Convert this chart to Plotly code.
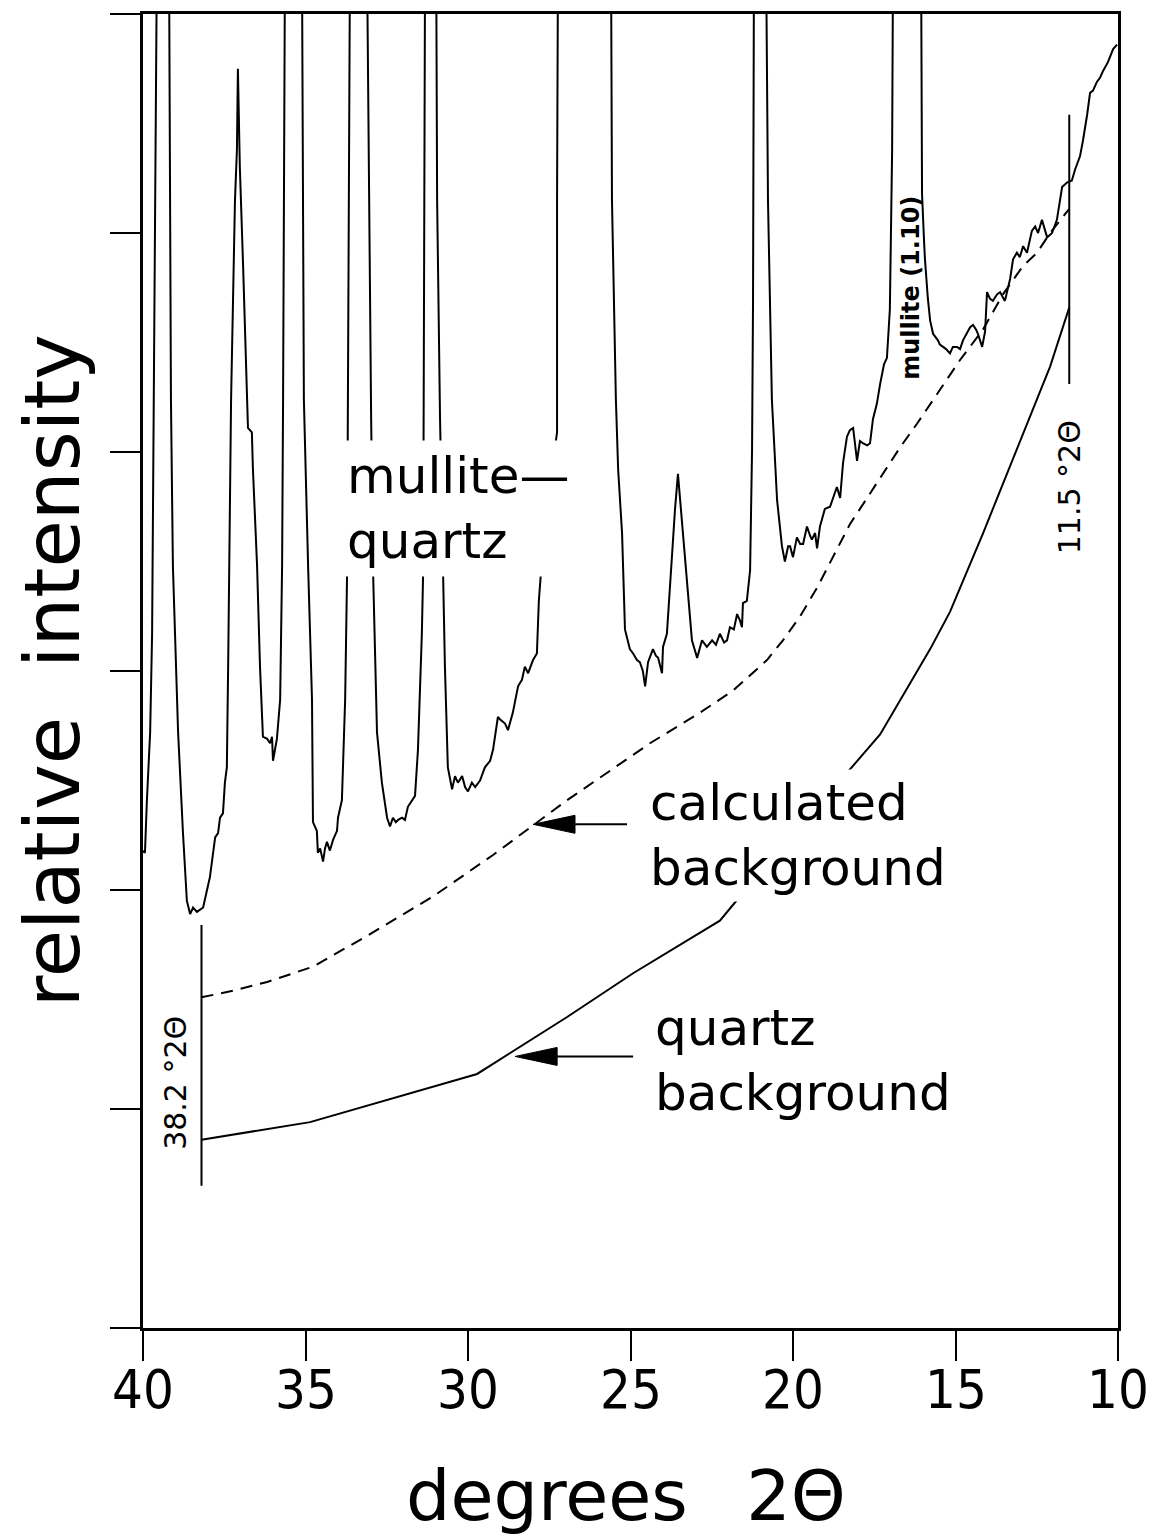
import plotly.graph_objects as go

# Measured X-ray diffraction pattern (2-theta in degrees, relative intensity).
# Peaks that run off the top of the frame carry an off-scale value of 6.29.
two_theta = [
    40.03, 39.94, 39.88, 39.78, 39.72, 39.69, 39.63, 39.57, 39.20, 39.17,
    39.14, 39.08, 38.92, 38.77, 38.65, 38.55, 38.46, 38.34, 38.25, 38.15,
    38.03, 37.94, 37.78, 37.69, 37.63, 37.54, 37.48, 37.42, 37.38, 37.35,
    37.29, 37.17, 37.11, 37.08, 37.02, 36.92, 36.80, 36.77, 36.65, 36.62,
    36.49, 36.40, 36.31, 36.18, 36.09, 36.03, 36.00, 35.94, 35.88, 35.78,
    35.72, 35.69, 35.63, 35.11, 35.08, 35.05, 34.92, 34.80, 34.77, 34.65,
    34.62, 34.55, 34.49, 34.46, 34.40, 34.34, 34.25, 34.15, 34.03, 34.00,
    33.88, 33.78, 33.72, 33.69, 33.63, 33.11, 33.05, 32.98, 32.92, 32.80,
    32.65, 32.49, 32.40, 32.31, 32.22, 32.15, 32.03, 31.94, 31.85, 31.72,
    31.63, 31.54, 31.42, 31.38, 31.35, 31.32, 30.98, 30.95, 30.86, 30.77,
    30.71, 30.62, 30.49, 30.40, 30.31, 30.18, 30.09, 30.00, 29.88, 29.78,
    29.63, 29.48, 29.32, 29.23, 29.08, 29.02, 28.86, 28.77, 28.62, 28.46,
    28.34, 28.25, 28.15, 28.00, 27.88, 27.82, 27.75, 27.54, 27.26, 27.26,
    27.23, 25.60, 25.57, 25.45, 25.38, 25.26, 25.17, 25.02, 24.92, 24.80,
    24.71, 24.62, 24.55, 24.46, 24.31, 24.22, 24.15, 24.03, 24.00, 23.88,
    23.72, 23.63, 23.54, 23.45, 23.32, 23.11, 22.95, 22.80, 22.65, 22.49,
    22.37, 22.25, 22.12, 22.03, 21.94, 21.82, 21.72, 21.63, 21.57, 21.54,
    21.42, 21.32, 21.26, 21.23, 21.20, 20.83, 20.77, 20.65, 20.49, 20.34,
    20.25, 20.15, 20.09, 20.00, 19.88, 19.78, 19.69, 19.57, 19.48, 19.42,
    19.32, 19.26, 19.17, 19.02, 18.86, 18.77, 18.65, 18.55, 18.46, 18.34,
    18.25, 18.15, 18.03, 17.94, 17.85, 17.72, 17.63, 17.54, 17.42, 17.32,
    17.20, 17.11, 17.02, 16.95, 16.92, 16.06, 16.03, 15.97, 15.94, 15.85,
    15.78, 15.69, 15.60, 15.54, 15.48, 15.38, 15.29, 15.17, 15.08, 14.95,
    14.86, 14.77, 14.65, 14.55, 14.46, 14.37, 14.31, 14.18, 14.09, 14.03,
    13.94, 13.85, 13.72, 13.63, 13.48, 13.32, 13.23, 13.11, 13.02, 12.92,
    12.80, 12.65, 12.55, 12.46, 12.34, 12.18, 12.03, 11.88, 11.72, 11.57,
    11.42, 11.32, 11.17, 11.08, 10.95, 10.86, 10.77, 10.65, 10.55, 10.46,
    10.31, 10.15, 10.03,
]
intensity = [
    2.18, 2.17, 2.41, 2.72, 3.17, 3.78, 4.69, 6.29, 6.29, 5.15,
    4.24, 3.48, 2.72, 2.26, 1.95, 1.89, 1.92, 1.90, 1.91, 1.92,
    2.00, 2.06, 2.24, 2.26, 2.33, 2.35, 2.49, 2.56, 3.02, 3.55,
    4.24, 5.15, 5.38, 5.75, 5.30, 4.85, 4.24, 4.11, 4.09, 3.93,
    3.48, 3.02, 2.70, 2.69, 2.67, 2.70, 2.59, 2.64, 2.69, 2.87,
    3.48, 4.24, 6.29, 6.29, 5.15, 4.24, 3.48, 2.87, 2.31, 2.27,
    2.17, 2.19, 2.15, 2.13, 2.19, 2.22, 2.18, 2.23, 2.27, 2.33,
    2.41, 2.87, 3.45, 4.15, 6.29, 6.29, 5.15, 4.15, 3.45, 2.72,
    2.49, 2.33, 2.29, 2.33, 2.31, 2.32, 2.33, 2.32, 2.38, 2.41,
    2.43, 2.64, 3.17, 3.45, 4.69, 6.29, 6.29, 5.15, 4.15, 3.45,
    3.02, 2.56, 2.46, 2.52, 2.49, 2.52, 2.47, 2.45, 2.49, 2.47,
    2.50, 2.56, 2.59, 2.64, 2.79, 2.78, 2.76, 2.73, 2.81, 2.93,
    2.96, 3.02, 2.99, 3.05, 3.08, 3.32, 3.46, 3.78, 4.09, 5.15,
    6.29, 6.29, 5.15, 4.24, 3.92, 3.63, 3.19, 3.10, 3.08, 3.05,
    3.04, 3.00, 2.93, 3.04, 3.10, 3.07, 3.06, 2.99, 3.11, 3.17,
    3.55, 3.74, 3.90, 3.74, 3.55, 3.14, 3.06, 3.14, 3.11, 3.14,
    3.12, 3.17, 3.13, 3.14, 3.20, 3.19, 3.26, 3.23, 3.20, 3.31,
    3.32, 3.46, 4.01, 4.69, 6.29, 6.29, 5.15, 4.24, 3.78, 3.57,
    3.50, 3.57, 3.57, 3.52, 3.61, 3.58, 3.58, 3.66, 3.62, 3.60,
    3.63, 3.56, 3.66, 3.74, 3.75, 3.79, 3.84, 3.79, 3.95, 4.07,
    4.10, 4.11, 3.96, 4.05, 4.04, 4.03, 4.04, 4.15, 4.22, 4.31,
    4.40, 4.43, 4.65, 5.38, 6.29, 6.29, 5.18, 4.97, 4.88, 4.70,
    4.60, 4.54, 4.52, 4.51, 4.49, 4.48, 4.47, 4.45, 4.48, 4.48,
    4.47, 4.51, 4.54, 4.57, 4.58, 4.56, 4.54, 4.48, 4.55, 4.73,
    4.70, 4.69, 4.72, 4.73, 4.69, 4.79, 4.88, 4.91, 4.89, 4.94,
    4.91, 5.01, 5.03, 5.00, 5.06, 4.98, 5.00, 5.06, 5.21, 5.23,
    5.24, 5.29, 5.35, 5.42, 5.54, 5.64, 5.65, 5.69, 5.71, 5.74,
    5.78, 5.84, 5.86,
]

# Calculated background (dashed curve)
calc_bg_theta = [38.2, 37.23, 36.18, 34.77, 33.11, 31.08, 29.23, 27.94, 26.95,
                 24.40, 22.86, 21.85, 20.80, 20.31, 19.78, 19.26, 18.77, 18.25,
                 17.72, 17.23, 16.71, 16.18, 15.54, 14.86, 14.15, 13.54, 12.92,
                 12.49, 12.09, 11.5]
calc_bg_int = [1.51, 1.54, 1.58, 1.65, 1.79, 1.97, 2.16, 2.30, 2.41,
               2.67, 2.81, 2.91, 3.05, 3.14, 3.25, 3.38, 3.52, 3.67,
               3.79, 3.90, 4.02, 4.13, 4.27, 4.42, 4.56, 4.72, 4.85,
               4.91, 5.00, 5.11]

# Quartz background (solid curve)
quartz_bg_theta = [38.2, 34.86, 29.72, 26.95, 24.92, 22.25, 21.69,
                   17.32, 15.78, 15.17, 14.15, 13.11, 12.09, 11.5]
quartz_bg_int = [0.86, 0.94, 1.16, 1.42, 1.62, 1.86, 1.96,
                 2.71, 3.10, 3.27, 3.63, 4.01, 4.39, 4.66]

# Integration limits (degrees 2-theta) and the extent of their marker lines
limit_theta = [38.2, 11.5]
limit_low = [0.65, 4.31]
limit_high = [1.84, 5.54]

x_ticks = [40, 35, 30, 25, 20, 15, 10]
y_ticks = [0, 1, 2, 3, 4, 5, 6]

TEXT_FONT = "DejaVu Sans, Verdana, sans-serif"
TICK_FONT = "Liberation Sans Narrow, DejaVu Sans Condensed, Arial Narrow, sans-serif"

fig = go.Figure()

fig.add_trace(go.Scatter(
    x=two_theta, y=intensity, mode="lines",
    line=dict(color="black", width=2), showlegend=False, hoverinfo="skip",
))
fig.add_trace(go.Scatter(
    x=calc_bg_theta, y=calc_bg_int, mode="lines",
    line=dict(color="black", width=2, dash="12px,8px"),
    showlegend=False, hoverinfo="skip",
))
fig.add_trace(go.Scatter(
    x=quartz_bg_theta, y=quartz_bg_int, mode="lines",
    line=dict(color="black", width=2), showlegend=False, hoverinfo="skip",
))

shapes = []
for t, lo, hi in zip(limit_theta, limit_low, limit_high):
    shapes.append(dict(type="line", xref="x", yref="y", x0=t, x1=t, y0=lo, y1=hi,
                       line=dict(color="black", width=2)))

# Arrows pointing at the two background curves: (tip x, tip y, tail length px)
arrows = [(28.0, 2.30, 94), (28.55, 1.24, 118)]
for ax_, ay_, tail in arrows:
    shapes.append(dict(type="line", xref="x", yref="y", xsizemode="pixel",
                       xanchor=ax_, x0=30, x1=tail, y0=ay_, y1=ay_,
                       line=dict(color="black", width=2)))
    shapes.append(dict(type="path", xref="x", yref="y", xsizemode="pixel",
                       ysizemode="pixel", xanchor=ax_, yanchor=ay_,
                       path="M0,0 L42,9 L42,-9 Z", fillcolor="black",
                       line=dict(color="black", width=1)))

annotations = [
    dict(x=33.94, y=3.74, xref="x", yref="y", text="mullite\u2014<br>quartz",
         showarrow=False, xanchor="left", yanchor="middle", align="left",
         bgcolor="white", borderpad=6,
         font=dict(family=TEXT_FONT, size=50, color="black")),
    dict(x=24.55, y=2.25, xref="x", yref="y", text="calculated<br>background",
         showarrow=False, xanchor="left", yanchor="middle", align="left",
         bgcolor="white", borderpad=4,
         font=dict(family=TEXT_FONT, size=50, color="black")),
    dict(x=24.40, y=1.22, xref="x", yref="y", text="quartz<br>background",
         showarrow=False, xanchor="left", yanchor="middle", align="left",
         bgcolor="white", borderpad=4,
         font=dict(family=TEXT_FONT, size=50, color="black")),
    dict(x=16.37, y=4.75, xref="x", yref="y", text="mullite (1.10)",
         showarrow=False, textangle=-90, xanchor="center", yanchor="middle",
         font=dict(family=TEXT_FONT, size=24, color="black", weight="bold")),
    dict(x=38.98, y=1.12, xref="x", yref="y", text="38.2 \u00b02\u0398",
         showarrow=False, textangle=-90, xanchor="center", yanchor="middle",
         font=dict(family=TEXT_FONT, size=30, color="black")),
    dict(x=11.5, y=3.84, xref="x", yref="y", text="11.5 \u00b02\u0398",
         showarrow=False, textangle=-90, xanchor="center", yanchor="middle",
         font=dict(family=TEXT_FONT, size=30, color="black")),
    # axis titles
    dict(x=-0.093, y=0.50, xref="paper", yref="paper", text="relative\u00a0 intensity",
         showarrow=False, textangle=-90, xanchor="center", yanchor="middle",
         font=dict(family=TEXT_FONT, size=77, color="black")),
    dict(x=0.495, y=-0.128, xref="paper", yref="paper",
         text="degrees\u00a0\u2009 2\u0398",
         showarrow=False, xanchor="center", yanchor="middle",
         font=dict(family=TEXT_FONT, size=70, color="black")),
]

# x tick labels, set just below the outside tick marks
for v in x_ticks:
    annotations.append(dict(
        x=v, y=-0.021, xref="x", yref="paper", text=str(v), showarrow=False,
        xanchor="center", yanchor="top",
        font=dict(family=TICK_FONT, size=54, color="black"),
    ))

fig.update_layout(
    width=1167, height=1539,
    margin=dict(l=143, r=49, t=14, b=211),
    paper_bgcolor="white", plot_bgcolor="white",
    shapes=shapes, annotations=annotations,
    showlegend=False,
)
fig.update_xaxes(
    range=[40, 10], tickvals=x_ticks, showticklabels=False,
    ticks="outside", ticklen=30, tickwidth=2, tickcolor="black",
    showline=True, linecolor="black", linewidth=2.5, mirror=True,
    showgrid=False, zeroline=False,
)
fig.update_yaxes(
    range=[0, 6], tickvals=y_ticks, showticklabels=False,
    ticks="outside", ticklen=30, tickwidth=2, tickcolor="black",
    showline=True, linecolor="black", linewidth=2.5, mirror=True,
    showgrid=False, zeroline=False,
)

fig.write_html("out.html")
